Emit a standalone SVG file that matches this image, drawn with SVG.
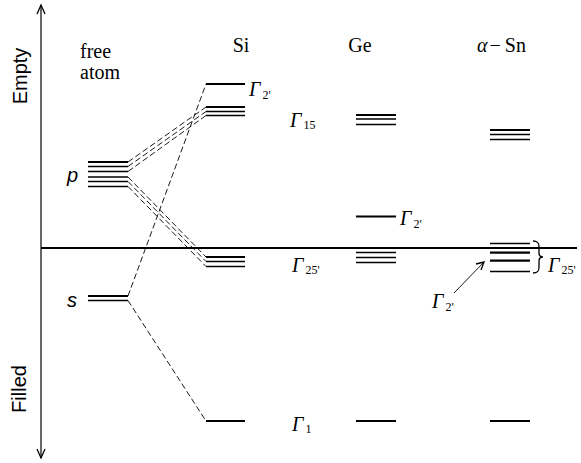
<svg xmlns="http://www.w3.org/2000/svg" width="581" height="463" viewBox="0 0 581 463">
<style>
.lv{stroke:#000;stroke-width:1.3;fill:none}
.lt{stroke:#000;stroke-width:2.2;fill:none}
.ds{stroke:#000;stroke-width:0.9;stroke-dasharray:6,3;fill:none}
.san{font-family:"Liberation Sans",Arial,sans-serif;font-size:20px;fill:#000}
.ser{font-family:"Liberation Serif","Times New Roman",serif;font-size:20px;fill:#000}
.g{font-family:"Liberation Serif","Times New Roman",serif;font-style:italic;font-size:20px;fill:#000}
.sub{font-size:12px;fill:#000;font-style:normal}
</style>
<rect width="581" height="463" fill="#fff"/>
<g id="axes">
<line x1="41" y1="5" x2="41" y2="458" stroke="#000" stroke-width="1.2"/>
<polyline points="37,14 41,5 45,14" class="lv" stroke-width="1.1"/>
<polyline points="37,449 41,458 45,449" class="lv" stroke-width="1.1"/>
<line x1="41" y1="248" x2="577" y2="248" stroke="#000" stroke-width="2"/>
<text class="san" transform="translate(27,76) rotate(-90)" text-anchor="middle">Empty</text>
<text class="san" transform="translate(26,389) rotate(-90)" text-anchor="middle">Filled</text>
</g>
<g id="headers">
<text class="ser" x="80" y="58" font-size="23.5">free</text>
<text class="ser" x="80" y="79" font-size="23.5">atom</text>
<text class="ser" x="241" y="52" text-anchor="middle">Si</text>
<text class="ser" x="360" y="52" text-anchor="middle">Ge</text>
<text class="ser" x="477" y="52"><tspan font-style="italic">α</tspan><tspan dx="2">−</tspan><tspan dx="4">Sn</tspan></text>
</g>
<g id="free-atom-p">
<line x1="88" y1="162" x2="128" y2="162" class="lt"/>
<line x1="88" y1="166.5" x2="128" y2="166.5" class="lv"/>
<line x1="88" y1="171.5" x2="128" y2="171.5" class="lv"/>
<line x1="88" y1="177" x2="128" y2="177" class="lv"/>
<line x1="88" y1="181.5" x2="128" y2="181.5" class="lv"/>
<line x1="88" y1="186.5" x2="128" y2="186.5" class="lv"/>
<text x="67" y="182" font-family="Liberation Sans, Arial, sans-serif" font-style="italic" font-size="20">p</text>
</g>
<g id="free-atom-s">
<line x1="88" y1="296" x2="128" y2="296" class="lt"/>
<line x1="88" y1="300.5" x2="128" y2="300.5" class="lv"/>
<text x="67" y="307" font-family="Liberation Sans, Arial, sans-serif" font-style="italic" font-size="20">s</text>
</g>
<g id="si">
<line x1="206" y1="84" x2="245" y2="84" class="lt"/>
<line x1="206" y1="107" x2="245" y2="107" class="lt"/>
<line x1="206" y1="111.5" x2="245" y2="111.5" class="lv"/>
<line x1="206" y1="115.5" x2="245" y2="115.5" class="lv"/>
<line x1="206" y1="257" x2="245" y2="257" class="lt"/>
<line x1="206" y1="261.5" x2="245" y2="261.5" class="lv"/>
<line x1="206" y1="266.5" x2="245" y2="266.5" class="lv"/>
<line x1="206" y1="421" x2="245" y2="421" class="lt"/>
<text class="g" x="249" y="96">Γ<tspan class="sub" dx="2" dy="3">2'</tspan></text>
<text class="g" x="290" y="127">Γ<tspan class="sub" dx="2" dy="2">15</tspan></text>
<text class="g" x="292" y="272">Γ<tspan class="sub" dx="2" dy="2">25'</tspan></text>
<text class="g" x="292" y="431">Γ<tspan class="sub" dx="2" dy="2">1</tspan></text>
</g>
<g id="ge">
<line x1="356" y1="115" x2="396" y2="115" class="lt"/>
<line x1="356" y1="119" x2="396" y2="119" class="lv"/>
<line x1="356" y1="124.5" x2="396" y2="124.5" class="lv"/>
<line x1="356" y1="216.5" x2="396" y2="216.5" class="lt"/>
<line x1="356" y1="252.5" x2="396" y2="252.5" class="lv"/>
<line x1="356" y1="257.5" x2="396" y2="257.5" class="lv"/>
<line x1="356" y1="262.5" x2="396" y2="262.5" class="lv"/>
<line x1="356" y1="421" x2="396" y2="421" class="lt"/>
<text class="g" x="400" y="225">Γ<tspan class="sub" dx="2" dy="3">2'</tspan></text>
</g>
<g id="sn">
<line x1="490" y1="130" x2="530" y2="130" class="lt"/>
<line x1="490" y1="134.5" x2="530" y2="134.5" class="lv"/>
<line x1="490" y1="139.5" x2="530" y2="139.5" class="lv"/>
<line x1="490" y1="243.5" x2="530" y2="243.5" class="lv"/>
<line x1="490" y1="252.7" x2="530" y2="252.7" class="lt"/>
<line x1="490" y1="260.7" x2="530" y2="260.7" class="lt"/>
<line x1="490" y1="271.5" x2="530" y2="271.5" class="lv"/>
<line x1="490" y1="421" x2="530" y2="421" class="lt"/>
<path d="M533,241 C538,241 539,243 539,247 L539,253 C539,256 540,257 543,257 C540,257 539,258 539,261 L539,267 C539,271 538,273 533,273" class="lv"/>
<text class="g" x="548" y="272">Γ<tspan class="sub" dx="2" dy="2">25'</tspan></text>
<line x1="454" y1="293" x2="484" y2="262" stroke="#000" stroke-width="0.9"/>
<polyline points="476,264 484,262 481,270" class="lv" stroke-width="0.9"/>
<text class="g" x="432" y="308">Γ<tspan class="sub" dx="2" dy="3">2'</tspan></text>
</g>
<g id="connectors">
<line x1="128" y1="162" x2="206" y2="107" class="ds"/>
<line x1="128" y1="166.5" x2="206" y2="111.5" class="ds"/>
<line x1="128" y1="171.5" x2="206" y2="115.5" class="ds"/>
<line x1="128" y1="177" x2="206" y2="257" class="ds"/>
<line x1="128" y1="181.5" x2="206" y2="261.5" class="ds"/>
<line x1="128" y1="186.5" x2="206" y2="266.5" class="ds"/>
<line x1="128" y1="296" x2="206" y2="84" class="ds" stroke-dasharray="8,4"/>
<line x1="128" y1="300.5" x2="206" y2="421" class="ds" stroke-dasharray="8,4"/>
</g>
</svg>
